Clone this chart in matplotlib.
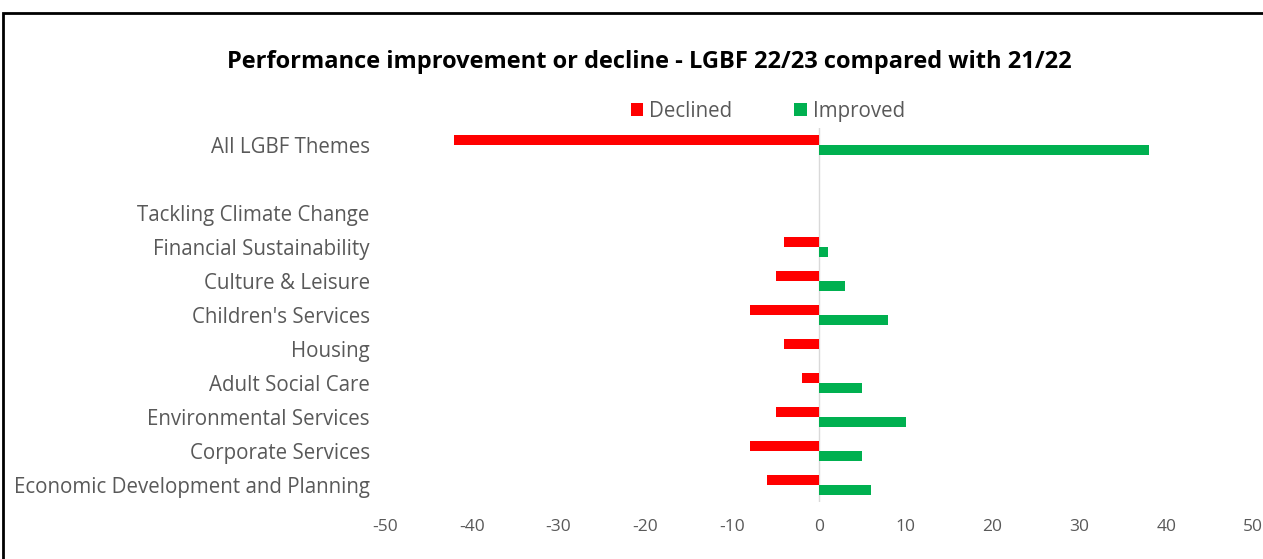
import numpy as np
import matplotlib.pyplot as plt
from matplotlib.patches import Rectangle

plt.rcParams['font.family'] = ['Open Sans', 'DejaVu Sans']
plt.rcParams['axes.unicode_minus'] = False

categories = ["All LGBF Themes", "", "Tackling Climate Change", "Financial Sustainability",
              "Culture & Leisure", "Children's Services", "Housing", "Adult Social Care",
              "Environmental Services", "Corporate Services", "Economic Development and Planning"]
declined = [-42, 0, 0, -4, -5, -8, -4, -2, -5, -8, -6]
improved = [38, 0, 0, 1, 3, 8, 0, 5, 10, 5, 6]
ticks = [-50, -40, -30, -20, -10, 0, 10, 20, 30, 40, 50]

fig = plt.figure(figsize=(12.63, 5.59), dpi=100)
ax = fig.add_axes([385 / 1263, 0.102, 868 / 1263, 0.669])

y = np.arange(len(categories))
h = 0.3
ax.barh(y - h / 2, declined, height=h, color='#ff0000', label='Declined')
ax.barh(y + h / 2, improved, height=h, color='#00b050', label='Improved')

ax.set_xlim(-50, 50)
ax.set_ylim(len(categories) - 0.5, -0.5)
ax.set_xticks(ticks)
ax.set_yticks(y)
ax.set_yticklabels(categories)
ax.tick_params(length=0, colors='#595959')
ax.tick_params(axis='x', pad=12, labelsize=12.5)
ax.tick_params(axis='y', pad=11, labelsize=14.8)
for s in ax.spines.values():
    s.set_visible(False)
ax.axvline(0, color='#d9d9d9', lw=1, zorder=0)

fig.text(0.514, 0.889, "Performance improvement or decline - LGBF 22/23 compared with 21/22",
         ha='center', va='center', fontsize=17, fontweight='bold', color='black')
fig.legend(loc='center', bbox_to_anchor=(0.608, 0.801), ncol=2, frameon=False,
           fontsize=14.8, labelcolor='#595959', handlelength=0.6, handleheight=0.6,
           handletextpad=0.3, columnspacing=3.0)

fig.patches.append(Rectangle((3 / 1263, -0.05), 1.1, 1 - 13 / 559 + 0.05,
                             transform=fig.transFigure, fill=False, edgecolor='black', lw=2))

fig.savefig('out.png', dpi=100)
